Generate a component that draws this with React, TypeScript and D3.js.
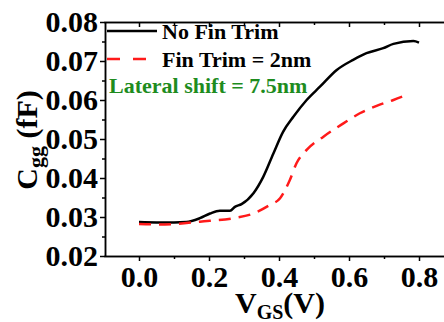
import React, { useEffect, useRef } from "react";
import * as d3 from "d3";

// V_GS (V) vs Cgg (fF)
const noTrimV = [0.0, 0.05, 0.1, 0.135, 0.174, 0.203, 0.231, 0.26, 0.274, 0.293, 0.327, 0.355, 0.384, 0.412, 0.441, 0.479, 0.517, 0.565, 0.612, 0.65, 0.698, 0.727, 0.784, 0.8];
const noTrimC = [0.0287, 0.0286, 0.0286, 0.0287, 0.0297, 0.0309, 0.0316, 0.0316, 0.0326, 0.0333, 0.0361, 0.0403, 0.0463, 0.0519, 0.0557, 0.06, 0.0634, 0.0677, 0.0703, 0.072, 0.0733, 0.0744, 0.0751, 0.0747];

const trimV = [0.0, 0.05, 0.1, 0.174, 0.27, 0.327, 0.374, 0.403, 0.431, 0.45, 0.479, 0.527, 0.584, 0.631, 0.679, 0.727, 0.765];
const trimC = [0.0282, 0.0281, 0.0282, 0.0288, 0.0297, 0.0309, 0.0331, 0.0348, 0.0395, 0.0438, 0.0472, 0.0506, 0.054, 0.0566, 0.0585, 0.06, 0.0613];

const xMajor = [0.0, 0.2, 0.4, 0.6, 0.8];
const xMinor = [0.1, 0.3, 0.5, 0.7];
const yMajor = [0.02, 0.03, 0.04, 0.05, 0.06, 0.07, 0.08];
const yMinor = [0.025, 0.035, 0.045, 0.055, 0.065, 0.075];

const legendLabels = ["No Fin Trim", "Fin Trim = 2nm"];
const note = "Lateral shift = 7.5nm";

const W = 444;
const H = 322;
const FONT = "'Liberation Serif', 'Times New Roman', Times, serif";

export default function App() {
  const svgRef = useRef<SVGSVGElement>(null);

  useEffect(() => {
    if (!svgRef.current) return;
    const svg = d3.select(svgRef.current);
    svg.selectAll("*").remove();

    const left = 105;
    const top = 22;
    const bottom = 256;

    const x = d3.scaleLinear().domain([-0.1, 0.9]).range([104, 454]);
    const y = d3.scaleLinear().domain([0.02, 0.08]).range([bottom, top]);

    svg
      .append("defs")
      .append("clipPath")
      .attr("id", "plot-clip")
      .append("rect")
      .attr("x", left)
      .attr("y", top)
      .attr("width", W - left)
      .attr("height", bottom - top);

    const fmt = d3.format(".2f");

    // bottom axis, ticks outward
    const gx = svg.append("g").attr("transform", `translate(0,${bottom})`);
    gx.call(d3.axisBottom(x).tickValues(xMajor).tickSize(5).tickSizeOuter(0).tickFormat(d3.format(".1f")));
    gx.append("g").call(d3.axisBottom(x).tickValues(xMinor).tickSize(3).tickSizeOuter(0).tickFormat(() => ""));

    // top axis, ticks inward
    const gt = svg.append("g").attr("transform", `translate(0,${top})`);
    gt.call(d3.axisBottom(x).tickValues(xMajor).tickSize(5).tickSizeOuter(0).tickFormat(() => ""));
    gt.append("g").call(d3.axisBottom(x).tickValues(xMinor).tickSize(3).tickSizeOuter(0).tickFormat(() => ""));

    // left axis, ticks outward
    const gy = svg.append("g").attr("transform", `translate(${left},0)`);
    gy.call(d3.axisLeft(y).tickValues(yMajor).tickSize(5).tickSizeOuter(0).tickFormat((d) => fmt(d as number)));
    gy.append("g").call(d3.axisLeft(y).tickValues(yMinor).tickSize(3).tickSizeOuter(0).tickFormat(() => ""));

    svg.selectAll(".domain").attr("stroke", "#000").attr("stroke-width", 1.5);
    svg.selectAll(".tick line").attr("stroke", "#000").attr("stroke-width", 1.5);
    svg
      .selectAll(".tick text")
      .attr("fill", "#000")
      .style("font-family", FONT)
      .style("font-weight", "bold")
      .style("font-size", "30px");
    gx.selectAll(".tick text").attr("y", 10).attr("dy", "0.71em");
    gy.selectAll(".tick text").attr("x", -7).attr("dy", "0.33em");

    const plot = svg.append("g").attr("clip-path", "url(#plot-clip)");
    const line = d3
      .line<[number, number]>()
      .x((d) => x(d[0]))
      .y((d) => y(d[1]))
      .curve(d3.curveMonotoneX);

    plot
      .append("path")
      .datum(noTrimV.map((v, i) => [v, noTrimC[i]] as [number, number]))
      .attr("d", line)
      .attr("fill", "none")
      .attr("stroke", "#000")
      .attr("stroke-width", 2.5);

    plot
      .append("path")
      .datum(trimV.map((v, i) => [v, trimC[i]] as [number, number]))
      .attr("d", line)
      .attr("fill", "none")
      .attr("stroke", "#ff1a1a")
      .attr("stroke-width", 2.5)
      .attr("stroke-dasharray", "12,8");

    // legend
    const legend = svg.append("g");
    const rows = [
      { label: legendLabels[0], color: "#000", dash: null, ly: 31 },
      { label: legendLabels[1], color: "#ff1a1a", dash: "13,13", ly: 59 },
    ];
    rows.forEach((r) => {
      legend
        .append("line")
        .attr("x1", 107)
        .attr("x2", 157)
        .attr("y1", r.ly)
        .attr("y2", r.ly)
        .attr("stroke", r.color)
        .attr("stroke-width", 2.5)
        .attr("stroke-dasharray", r.dash);
      legend
        .append("text")
        .attr("x", 162)
        .attr("y", r.ly + 8)
        .style("font-family", FONT)
        .style("font-weight", "bold")
        .style("font-size", "22px")
        .text(r.label);
    });
    legend
      .append("text")
      .attr("x", 109)
      .attr("y", 93)
      .attr("fill", "#1e8c1e")
      .style("font-family", FONT)
      .style("font-weight", "bold")
      .style("font-size", "22px")
      .text(note);

    // axis titles
    const xt = svg
      .append("text")
      .attr("x", 280)
      .attr("y", 313)
      .attr("text-anchor", "middle")
      .style("font-family", FONT)
      .style("font-weight", "bold")
      .style("font-size", "30px");
    xt.append("tspan").text("V");
    xt.append("tspan").attr("dy", 6).style("font-size", "20px").text("GS");
    xt.append("tspan").attr("dy", -6).text("(V)");

    const yt = svg
      .append("text")
      .attr("transform", `translate(37,140) rotate(-90)`)
      .attr("text-anchor", "middle")
      .style("font-family", FONT)
      .style("font-weight", "bold")
      .style("font-size", "30px");
    yt.append("tspan").text("C");
    yt.append("tspan").attr("dy", 6).style("font-size", "22px").text("gg");
    yt.append("tspan").attr("dy", -6).text(" (fF)");
  }, []);

  return (
    <svg
      ref={svgRef}
      width={W}
      height={H}
      style={{ position: "absolute", left: 0, top: 0, display: "block", background: "#fff" }}
    />
  );
}
